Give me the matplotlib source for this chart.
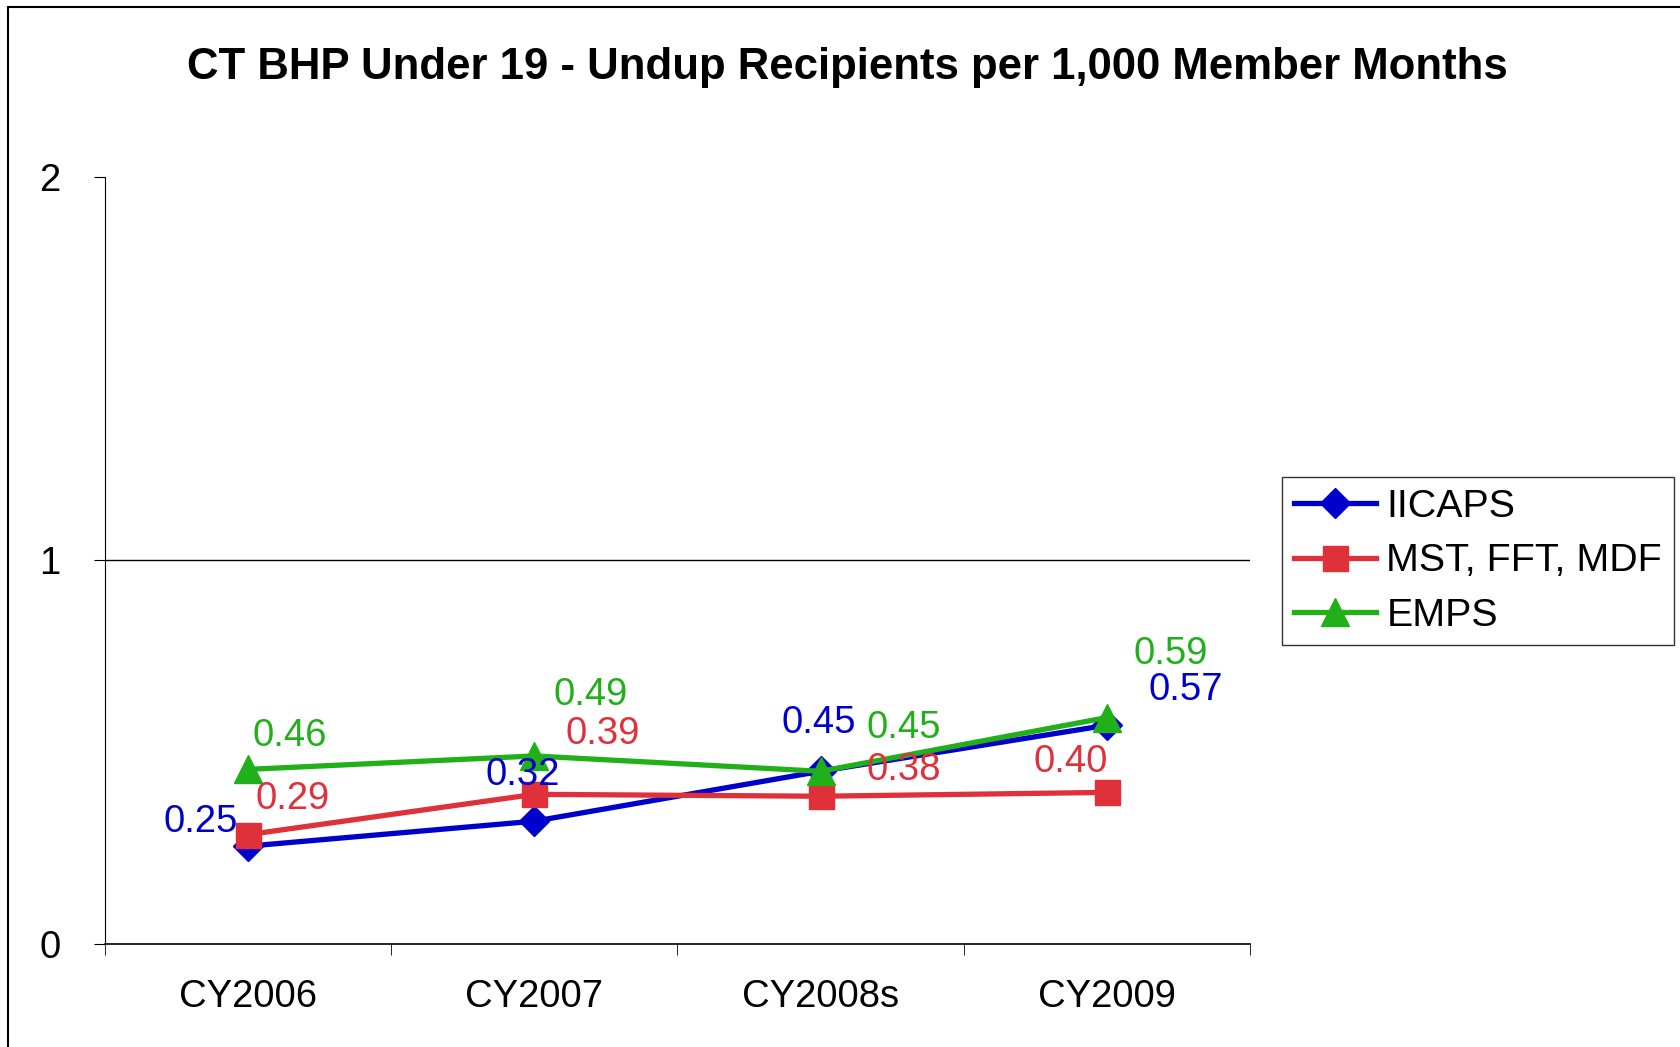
import matplotlib
matplotlib.use("Agg")
import matplotlib.pyplot as plt
from matplotlib.patches import Rectangle

plt.rcParams['font.family'] = ['Liberation Sans', 'DejaVu Sans']

categories = ["CY2006", "CY2007", "CY2008s", "CY2009"]
iicaps = [0.255, 0.32, 0.45, 0.57]
mst = [0.285, 0.39, 0.385, 0.395]
emps = [0.455, 0.49, 0.45, 0.59]
iicaps_labels = ["0.25", "0.32", "0.45", "0.57"]
mst_labels = ["0.29", "0.39", "0.38", "0.40"]
emps_labels = ["0.46", "0.49", "0.45", "0.59"]
yticks = [0, 1, 2]

c_blue = "#0000CC"
c_red = "#E0303A"
c_green = "#22B01A"

fig = plt.figure(figsize=(16.81, 10.47), dpi=100)
fig.patches.append(Rectangle((8/1681, -0.1), 1.2, 1.1 - 7/1047, transform=fig.transFigure,
                             fill=False, edgecolor="black", linewidth=1.5))
ax = fig.add_axes([0.0625, 0.0984, 0.681, 0.733])

x = list(range(len(categories)))
fs = 27.5
ax.axhline(1, color="black", linewidth=1, zorder=0)
l1, = ax.plot(x, iicaps, color=c_blue, lw=3.8, marker="D", ms=15, label="IICAPS", zorder=3)
l2, = ax.plot(x, mst, color=c_red, lw=3.8, marker="s", ms=18, label="MST, FFT, MDF", zorder=4)
l3, = ax.plot(x, emps, color=c_green, lw=3.8, marker="^", ms=20, label="EMPS", zorder=5)

offs_e = [(42, 33), (56, 61), (83, 43), (64, 64)]
offs_m = [(44, 36), (68, 60), (83, 26), (-36, 30)]
offs_i = [(-47, 24), (-12, 46), (-2, 48), (79, 35)]
for series, labels, offs, col in [(emps, emps_labels, offs_e, c_green),
                                  (mst, mst_labels, offs_m, c_red),
                                  (iicaps, iicaps_labels, offs_i, c_blue)]:
    for xi, v, lab, o in zip(x, series, labels, offs):
        ax.annotate(lab, (xi, v), xytext=o, textcoords="offset pixels",
                    ha="center", va="center", color=col, fontsize=fs, zorder=6)

ax.set_xlim(-0.5, 3.5)
ax.set_ylim(0, 2)
ax.set_yticks(yticks)
ax.set_yticklabels([str(t) for t in yticks], fontsize=fs)
ax.set_xticks(x)
ax.set_xticklabels(categories, fontsize=fs)
ax.set_xticks([-0.5, 0.5, 1.5, 2.5, 3.5], minor=True)
ax.tick_params(axis="x", which="major", length=0, pad=25)
ax.tick_params(axis="x", which="minor", length=8, direction="out")
ax.tick_params(axis="y", length=8, direction="out", pad=24)
for s in ["top", "right"]:
    ax.spines[s].set_visible(False)
ax.spines["left"].set_linewidth(0.8)
ax.spines["bottom"].set_linewidth(1.2)

fig.text(0.504, 0.936, "CT BHP Under 19 - Undup Recipients per 1,000 Member Months",
         ha="center", va="center", fontsize=31.5, fontweight="bold")

leg = fig.legend(handles=[l1, l2, l3], loc="upper left", bbox_to_anchor=(0.7625, 0.544),
                 fontsize=28.4, frameon=True, fancybox=False, edgecolor="black",
                 handlelength=2.1, borderpad=0.3, labelspacing=0.46, handletextpad=0.25,
                 borderaxespad=0)
leg.get_frame().set_linewidth(1)

fig.savefig("out.png", dpi=100)
